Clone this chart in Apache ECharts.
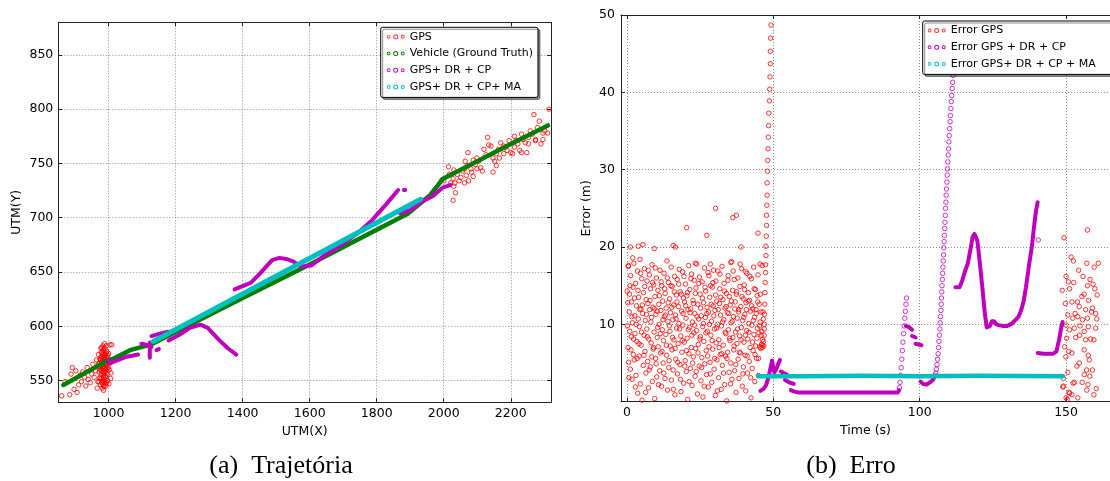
<!DOCTYPE html>
<html>
<head>
<meta charset="utf-8">
<script src="https://cdn.jsdelivr.net/npm/echarts@6/dist/echarts.min.js"></script>
<style>
  html, body { margin: 0; padding: 0; background: #fff; }
  #chart { width: 1110px; height: 481px; }
</style>
</head>
<body>
<div id="chart"></div>
<script>
// ---------- (a) Trajetoria : UTM(X) / UTM(Y) ----------
var gpsTraj = [
  [860,536],[870,549],[884,537],[888,556],[892,562],[897,542],[902,559],[906,539],[911,546],[915,555],
  [919,549],[923,558],[929,553],[932,545],[936,562],[939,551],[945,548],[950,556],[953,565],[957,553],
  [961,559],[964,569],[966,543],[968,549],[971,566],
  [975,560],[978,572],[980,548],[982,566],[984,578],[986,555],[988,570],[990,562],[992,575],[979,552],
  [983,582],[987,545],[991,568],[985,563],[981,576],[977,565],[989,551],[993,560],[995,572],[972,558],
  [974,570],[976,546],[980,580],[984,558],[988,566],[990,548],[994,564],[996,556],[998,568],[1000,575],
  [1002,560],[1004,583],[1006,552],[970,574],[973,552],[978,556],[982,561],[986,575],[989,579],[991,553],
  [993,571],[981,543],[985,541],[979,567],[983,569],[987,561],[990,573],[992,545],[986,549],[984,553],
  [978,576],[976,562],[974,563],[980,571],[988,557],[994,577],[997,550],[999,562],[1001,547],[995,567],
  [982,574],[985,567],[987,580],[989,565],[991,559],[983,547],[977,580],[975,553],[980,564],[990,569],
  [993,582],[996,561],[998,573],[1003,566],[984,571],[986,558],[988,584],[979,559],[981,550],[992,554],
  [994,548],[987,572],[985,545],[983,563],[989,574],[976,569],[973,566],[971,549],[1007,557],[1009,583],
  [1995,735],[2000,734],[2014,747],[2017,740],[2021,732],[2028,736],[2030,729],[2033,732],[2035,723],[2028,716],
  [2040,740],[2046,734],[2051,737],[2056,743],[2062,745],[2064,752],[2067,739],[2070,748],[2074,734],[2081,745],
  [2083,742],[2088,738],[2094,749],[2099,745],[2104,752],[2110,746],[2115,743],[2099,755],[2072,760],[2131,774],
  [2134,767],[2141,766],[2147,755],[2152,752],[2157,748],[2163,763],[2166,755],[2170,769],[2179,759],[2184,765],
  [2189,762],[2195,771],[2200,760],[2205,759],[2211,775],[2216,771],[2221,768],[2227,762],[2232,777],[2237,772],
  [2243,769],[2248,760],[2253,774],[2258,780],[2264,777],[2269,795],[2274,772],[2280,783],[2285,789],[2290,768],
  [2296,772],[2301,780],[2310,778],[2314,800],[2147,742],[2030,744],[2062,732],[2088,753],[2120,763],[2126,758],
  [2157,759],[2179,766],[2211,765],[2232,760],[2253,768],[2274,771],[2296,778]
];
var vehicleTraj = [
  [865,546],[1000,569],[1014,570],[1064,578],[1100,581],[1125,583],[1400,626],[1600,657],
  [1800,689],[1894,704],[1960,721],[1998,736],[2100,752],[2200,768],[2311,785]
];
var drcpTraj = [
  [[999,569],[1005,566],[1020,568],[1054,572],[1088,574]],
  [[1098,584],[1112,583],[1128,581]],
  [[1123,571],[1123,585]],
  [[1143,578],[1150,579]],
  [[1128,591],[1150,593],[1178,595]],
  [[1179,587],[1210,592],[1243,598.5],[1274,601.5],[1296,598.5],[1328,588],[1355,580],[1381,574]],
  [[1376,634],[1400,637],[1424,640],[1450,648],[1488,661],[1510,663],[1530,662],[1552,659.5],[1573,655],
   [1605,656],[1638,664],[1670,670],[1702,676.5],[1744,686],[1787,698],[1830,713],[1864,725.5]],
  [[1881,725.5],[1885,725.5]],
  [[1870,704],[1900,707],[1930,714],[1968,720],[1998,728],[2020,730]]
];
var maTraj = [[1133,586],[1931,717]];

// ---------- (b) Erro : Time (s) / Error (m) ----------
var gpsErr = [
  [0.1,14.3],[0.3,12.8],[0.4,7.0],[0.5,17.5],[0.6,5.1],[0.8,11.6],[0.9,13.9],[1.0,9.1],[1.2,4.2],[1.3,16.3],
  [1.5,8.4],[1.6,12.9],[1.8,2.9],[1.9,10.2],[2.1,14.8],[2.2,6.1],[2.4,17.9],[2.5,5.4],[2.7,11.1],[2.8,8.8],
  [3.0,15.3],[3.1,3.4],[3.3,12.4],[3.4,7.8],[3.6,16.9],[3.7,1.1],[3.9,10.7],[4.0,13.5],[4.2,5.9],[4.3,9.7],
  [4.5,18.4],[4.6,2.3],[4.8,12.0],[4.9,7.3],[5.1,15.9],[5.2,0.2],[5.4,11.4],[5.6,4.7],[5.7,14.1],[5.9,8.6],
  [6.0,17.2],[6.2,6.5],[6.3,10.5],[6.5,3.7],[6.6,13.2],[6.8,9.4],[6.9,15.6],[7.1,5.2],[7.2,12.7],[7.4,1.8],
  [7.5,8.1],[7.7,16.4],[7.8,11.9],[8.0,4.5],[8.1,14.6],[8.3,7.6],[8.4,10.9],[8.6,17.7],[8.7,2.6],[8.9,12.2],
  [9.0,6.8],[9.2,15.1],[9.3,9.0],[9.5,0.4],[9.6,13.6],[9.8,5.6],[9.9,11.3],[10.1,16.0],[10.2,3.2],[10.4,8.3],
  [10.6,14.4],[10.7,7.1],[10.9,12.6],[11.0,10.0],[11.2,4.0],[11.3,17.0],[11.5,6.3],[11.6,11.8],[11.8,2.0],[11.9,15.0],
  [12.1,9.3],[12.2,13.0],[12.4,5.0],[12.5,7.9],[12.7,16.6],[12.8,11.0],[13.0,3.0],[13.1,14.0],[13.3,8.7],[13.4,12.1],
  [13.6,6.0],[13.7,18.2],[13.9,1.5],[14.0,10.4],[14.2,15.4],[14.3,4.4],[14.5,9.8],[14.6,13.3],[14.8,7.2],[14.9,11.5],
  [15.1,17.4],[15.2,2.8],[15.4,6.7],[15.5,14.9],[15.7,10.6],[15.8,4.1],[16.0,12.5],[16.1,8.0],[16.3,16.2],[16.4,0.9],
  [16.6,11.2],[16.7,5.5],[16.9,13.8],[17.0,9.5],[17.2,15.8],[17.3,3.6],[17.5,7.5],[17.6,12.3],[17.8,10.1],[17.9,17.1],
  [18.1,4.8],[18.2,14.2],[18.4,8.5],[18.5,1.3],[18.7,11.7],[18.8,6.4],[19.0,16.8],[19.1,9.9],[19.3,13.4],[19.4,2.4],
  [19.6,7.7],[19.7,12.9],[19.9,5.3],[20.0,15.2],[20.2,10.8],[20.3,3.9],[20.5,13.7],[20.6,8.2],[20.8,0.3],[20.9,11.9],
  [21.1,17.6],[21.2,6.2],[21.4,9.6],[21.5,14.5],[21.7,4.3],[21.8,12.0],[22.0,7.0],[22.1,16.5],[22.3,2.1],[22.4,10.3],
  [22.6,13.1],[22.7,5.8],[22.9,8.9],[23.0,15.7],[23.2,11.4],[23.3,3.3],[23.5,6.9],[23.6,14.7],[23.8,9.2],[23.9,17.8],
  [24.1,1.0],[24.2,12.6],[24.4,7.4],[24.5,10.7],[24.7,4.6],[24.8,16.1],[25.0,13.9],[25.1,8.4],[25.3,2.7],[25.4,11.1],
  [25.6,5.7],[25.7,15.5],[25.9,9.7],[26.0,0.6],[26.2,12.8],[26.3,7.8],[26.5,17.3],[26.6,4.9],[26.8,10.9],[26.9,14.3],
  [27.1,6.6],[27.2,3.5],[27.4,12.2],[27.5,9.1],[27.7,16.7],[27.8,1.9],[27.9,11.6],[28.1,7.1],[28.3,13.5],[28.4,5.1],
  [28.6,15.0],[28.7,8.6],[28.9,10.4],[29.0,2.5],[29.2,14.8],[29.3,6.8],[29.5,12.4],[29.6,17.0],[29.8,4.2],[29.9,9.4],
  [30.1,11.8],[30.2,0.8],[30.4,15.6],[30.5,7.6],[30.7,13.0],[30.8,5.4],[31.0,10.0],[31.1,16.9],[31.3,3.1],[31.4,8.0],
  [31.6,12.7],[31.7,14.6],[31.9,6.1],[32.0,11.2],[32.2,1.6],[32.3,9.8],[32.5,17.5],[32.6,4.7],[32.8,13.2],[32.9,7.3],
  [33.1,10.6],[33.2,15.3],[33.4,2.2],[33.5,12.1],[33.7,5.9],[33.8,8.8],[34.0,14.0],[34.1,0.1],[34.3,11.5],[34.4,6.4],
  [34.6,16.3],[34.7,9.3],[34.9,3.8],[35.0,13.6],[35.2,7.9],[35.3,12.5],[35.5,5.0],[35.6,10.2],[35.8,18.1],[35.9,2.9],
  [36.1,14.4],[36.2,8.3],[36.4,11.0],[36.5,6.7],[36.7,15.8],[36.8,4.0],[37.0,12.9],[37.1,9.0],[37.3,1.2],[37.4,13.9],
  [37.6,7.5],[37.7,10.8],[37.9,16.0],[38.0,5.5],[38.2,11.9],[38.3,3.0],[38.5,8.5],[38.6,14.9],[38.8,6.3],[38.9,12.3],
  [39.1,9.6],[39.2,17.2],[39.4,2.0],[39.5,10.5],[39.7,13.3],[39.8,4.5],[40.0,7.7],[40.1,15.1],[40.3,11.3],[40.4,6.0],
  [40.6,1.4],[40.7,12.8],[40.9,9.2],[41.0,16.6],[41.2,3.7],[41.3,8.1],[41.5,14.1],[41.6,10.1],[41.8,5.2],[41.9,13.1],
  [42.1,7.0],[42.2,11.7],[42.4,0.5],[42.5,15.9],[42.7,9.9],[42.8,4.3],[43.0,12.0],[43.1,6.6],[43.3,17.4],[43.4,8.7],
  [43.6,10.9],[43.7,2.6],[43.9,14.5],[44.0,7.2],[44.2,11.4],[44.3,5.6],[44.5,13.7],[44.6,9.5],[44.8,16.4],[44.9,3.4],
  [45.1,8.9],[45.2,12.6],[45.4,7.1],[45.5,10.3],[45.7,6.9],[45.8,11.6],[46.0,7.4],[46.1,9.1],[46.3,8.0],[46.4,7.3],
  [46.6,10.7],[46.7,7.8],[46.9,9.4],
  [0.2,9.8],[0.7,3.1],[1.1,15.0],[1.4,6.7],[1.7,11.0],[2.0,18.6],[2.3,8.1],[2.6,13.4],[2.9,1.9],[3.2,10.0],
  [3.5,5.6],[3.8,14.4],[4.1,7.5],[4.4,11.9],[4.7,16.6],[5.0,9.0],[5.3,12.5],[5.8,6.0],[6.1,14.9],[6.4,1.2],
  [6.7,11.3],[7.0,8.4],[7.3,17.0],[7.6,4.1],[7.9,13.1],[8.2,10.3],[8.5,5.8],[8.8,15.4],[9.1,7.0],[9.4,12.0],
  [9.7,17.3],[10.0,4.9],[10.3,11.7],[10.5,9.6],[10.8,2.2],[11.1,13.7],[11.4,8.8],[11.7,15.5],[12.0,6.5],[12.3,10.6],
  [12.6,3.7],[12.9,14.6],[13.2,11.2],[13.5,7.3],[13.8,16.0],[14.1,12.8],[14.4,5.3],[14.7,9.1],[15.0,15.0],[15.3,12.2],
  [15.6,8.3],[15.9,1.6],[16.2,14.2],[16.5,6.9],[16.8,10.7],[17.1,12.9],[17.4,5.1],[17.7,15.2],[18.0,9.4],[18.3,2.9],
  [18.6,13.9],[18.9,7.9],[19.2,11.4],[19.5,16.2],[19.8,4.6],[20.1,12.4],[20.4,6.6],[20.7,14.1],[21.0,9.3],[21.3,2.6],
  [21.6,11.5],[21.9,15.9],[22.2,8.6],[22.5,5.0],[22.8,12.7],[23.1,9.9],[23.4,14.0],[23.7,3.9],[24.0,11.0],[24.3,6.3],
  [24.6,15.3],[24.9,8.1],[25.2,12.1],[25.5,4.4],[25.8,13.4],[26.1,10.1],[26.4,2.0],[26.7,14.8],[27.0,8.9],[27.3,11.4],
  [27.6,5.9],[28.0,16.3],[28.2,10.0],[28.5,3.6],[28.8,12.6],[29.1,7.9],[29.4,15.4],[29.7,11.1],[30.0,5.6],[30.3,13.8],
  [30.6,9.5],[30.9,1.4],[31.2,11.9],[31.5,7.0],[31.8,16.5],[32.1,13.5],[32.4,6.2],[32.7,10.3],[33.0,3.7],[33.3,14.3],
  [33.6,9.0],[33.9,12.3],[34.2,5.6],[34.5,15.7],[34.8,11.4],[35.1,8.2],[35.4,2.3],[35.7,13.0],[36.0,10.4],[36.3,16.9],
  [36.6,7.2],[36.9,12.0],[37.2,4.8],[37.5,14.2],[37.8,9.4],[38.1,11.6],[38.4,6.4],[38.7,17.8],[39.0,8.0],[39.3,13.6],
  [39.6,3.6],[39.9,10.9],[40.2,14.5],[40.5,8.6],[40.8,11.9],[41.1,5.9],[41.4,13.0],[41.7,9.0],[42.0,16.2],[42.3,3.1],
  [42.6,12.4],[42.9,7.7],[43.2,10.5],[43.5,14.6],[43.8,6.1],[44.1,11.9],[44.4,8.2],[44.7,12.9],[45.0,5.6],[45.3,9.8],
  [45.6,13.9],[45.9,8.6],[46.2,7.0],[46.5,11.6],[46.8,7.2],
  [30.3,25.0],[36.2,23.8],[37.4,24.1],[20.4,22.5],[27.3,21.5],[39.0,20.0],[44.8,21.8],[3.9,20.1],[5.5,20.3],[9.4,19.8],
  [15.8,20.2],[16.6,20.0],[1.2,20.0],[0.5,17.6],[40.6,16.8],[46.2,17.6],[45.5,17.8],[35.5,18.0],[28.5,17.8],[23.4,17.9],
  [46.9,8.6],[46.95,10.0],[47.0,11.3],[47.1,12.6],[47.15,14.1],[47.25,15.4],[47.35,16.7],[47.35,17.7],[47.5,18.9],
  [47.5,20.1],[47.6,21.4],[47.7,22.8],[47.7,24.1],[47.8,25.4],[47.9,26.7],[47.9,28.3],[48.0,29.8],[48.1,31.2],
  [48.2,32.7],[48.3,34.2],[48.4,35.7],[48.5,37.3],[48.7,38.9],[48.8,40.4],[48.9,42.0],[49.0,43.7],[49.0,45.3],
  [49.1,47.0],[49.25,48.7],
  [149.3,21.2],[157.3,22.2],[151.7,18.7],[152.5,18.2],[157.1,17.9],[159.6,17.4],[161.0,17.9],[154.3,17.0],[150.0,16.2],
  [155.8,16.2],[158.2,15.8],[150.8,15.5],[159.2,15.2],[157.3,15.0],[148.7,14.4],[151.2,14.6],[152.6,15.4],[159.8,14.6],
  [156.2,13.9],[160.6,13.8],[155.4,13.6],[152.0,12.9],[153.9,12.9],[157.7,13.1],[149.8,12.7],[154.5,12.3],[156.7,11.9],
  [159.0,12.1],[160.1,11.4],[158.7,11.6],[153.1,11.4],[150.6,11.2],[152.3,10.8],[154.0,11.0],[155.6,10.6],[157.3,10.8],
  [160.5,10.7],[150.0,9.9],[151.2,9.3],[152.8,9.5],[154.8,9.8],[157.6,9.7],[156.2,9.1],[160.1,9.5],[150.2,8.2],
  [153.3,8.3],[154.6,8.6],[156.7,8.0],[158.4,8.1],[159.5,8.0],[149.5,7.1],[150.9,6.5],[152.0,6.3],[156.2,6.7],
  [157.6,6.0],[149.9,5.8],[154.5,5.0],[153.7,4.6],[157.9,5.4],[159.0,4.1],[157.0,4.1],[150.6,3.8],[149.1,3.0],
  [156.2,3.5],[158.1,3.3],[152.8,2.5],[152.4,2.4],[155.5,2.5],[157.5,2.2],[149.1,2.0],[159.5,0.9],[151.2,1.1],
  [152.0,0.9],[157.1,1.5],[154.0,0.5],[150.0,0.5],[160.3,1.7],[148.9,1.9],[150.4,0.3],[151.0,1.2]
];
var drcpErrTraces = [
  [[45.6,1.4],[46.8,1.7],[47.6,2.2],[48.4,3.2],[49.2,4.6],[49.6,5.3]],
  [[49.6,5.3],[50.0,4.3],[50.4,3.8],[51.0,4.2],[51.8,5.0],[52.3,5.4]],
  [[52.6,3.9],[53.5,3.7],[54.6,3.5]],
  [[54.0,2.8],[55.5,2.5],[57.0,2.3]],
  [[56.0,1.5],[57.2,1.3],[58.4,1.2],[75.0,1.2],[92.5,1.2],[93.0,1.5]],
  [[95.3,9.8],[96.5,9.6],[97.4,9.3]],
  [[97.4,8.5],[98.6,8.3]],
  [[98.6,7.5],[100.6,7.3]],
  [[100.3,2.6],[101.2,2.3],[102.2,2.2],[103.5,2.5],[104.5,2.8],[105.2,3.3]],
  [[112.2,14.8],[113.6,14.8],[114.5,15.6],[115.5,16.9],[116.4,17.8],[117.3,19.6],[118.1,21.3],[118.7,21.7],
   [119.2,21.6],[119.7,20.8],[120.1,19.5],[120.8,17.0],[121.5,14.4],[122.2,11.6],[122.9,9.6],[123.4,9.4],
   [124.0,9.8],[124.7,10.4],[125.4,10.4],[126.2,10.0],[127.0,9.9],[128.5,9.8],[129.9,9.8],[131.5,10.1],
   [132.8,10.6],[133.8,11.0],[134.8,12.0],[135.5,13.0],[136.3,14.8],[137.2,17.3],[138.3,20.0],[139.1,22.8],
   [139.7,24.6],[140.3,25.8]],
  [[140.3,6.3],[142.2,6.2],[145.6,6.2],[146.7,6.5],[147.6,8.0],[148.3,9.5],[148.8,10.3]]
];
var drcpErrPoints = [
  [93.1,1.8],[93.3,2.5],[93.5,3.4],[93.7,4.4],[93.9,5.5],[94.1,6.6],[94.3,7.7],[94.5,8.8],[94.7,9.8],
  [94.9,10.8],[95.1,11.7],[95.3,12.6],[95.5,13.4],
  [105.3,3.4],[105.5,3.7],[105.7,4.2],[105.9,4.8],[106.1,5.5],[106.3,6.2],[106.45,7.0],[106.6,7.8],[106.75,8.6],
  [106.9,9.4],[107.0,10.2],[107.1,11.0],[107.25,11.8],[107.35,12.6],[107.45,13.4],[107.55,14.2],[107.65,15.0],
  [107.75,15.8],[107.85,16.6],[107.95,17.4],[108.05,18.2],[108.15,19.0],[108.25,19.9],[108.35,20.7],[108.45,21.5],
  [108.55,22.4],[108.65,23.2],[108.75,24.1],[108.85,25.0],[108.95,25.8],[109.05,26.7],[109.15,27.5],[109.3,28.4],
  [109.4,29.3],[109.5,30.1],[109.6,31.0],[109.75,31.9],[109.85,32.7],[110.0,33.6],[110.1,34.4],[110.25,35.3],
  [110.4,36.2],[110.5,37.0],[110.65,37.9],[110.8,38.8],[110.95,39.6],[111.1,40.5],[111.25,41.3],[111.4,42.2],
  [111.55,43.0],
  [140.5,20.9]
];
var maErr = [[44.8,3.3],[60,3.3],[80,3.35],[100,3.3],[120,3.35],[149,3.3]];

var RED = '#ff0000', GREEN = '#008000', MAG = '#bf00bf', CYAN = '#00bfbf';
var FONT = 'DejaVu Sans';

// three hollow rings, like the matplotlib scatter legend handle
var ringIcon = 'path://' +
  'M0,2.5a1.9,1.9 0 1,0 3.8,0a1.9,1.9 0 1,0 -3.8,0Z M0.9,2.5a1,1 0 1,1 2,0a1,1 0 1,1 -2,0Z ' +
  'M6.5,2.5a2.5,2.5 0 1,0 5,0a2.5,2.5 0 1,0 -5,0Z M7.5,2.5a1.5,1.5 0 1,1 3,0a1.5,1.5 0 1,1 -3,0Z ' +
  'M14,2.5a2,2 0 1,0 4,0a2,2 0 1,0 -4,0Z M15,2.5a1,1 0 1,1 2,0a1,1 0 1,1 -2,0Z';

function dots(name, data, color, xi, yi) {
  return {
    type: 'scatter', name: name, data: data, xAxisIndex: xi, yAxisIndex: yi,
    symbol: 'circle', symbolSize: 4.5, silent: true, animation: false,
    itemStyle: { color: 'rgba(255,255,255,0)', borderColor: color, borderWidth: 1 }
  };
}
function trace(name, data, color, xi, yi, w) {
  return {
    type: 'line', name: name, data: data, xAxisIndex: xi, yAxisIndex: yi,
    symbol: 'none', showSymbol: false, silent: true, animation: false,
    itemStyle: { color: color },
    lineStyle: { color: color, width: w, cap: 'round', join: 'round' }
  };
}
function legendItem(name, color) {
  return { name: name, icon: ringIcon, itemStyle: { color: color, borderWidth: 0 } };
}

var gridLine = { show: true, lineStyle: { color: '#8c8c8c', width: 1, type: [1, 2] } };
var tick = { show: true, inside: true, length: 4, lineStyle: { color: '#222' } };
var axLine = { show: true, onZero: false, lineStyle: { color: '#222', width: 1 } };
var lbl = { color: '#000', fontFamily: FONT, fontSize: 12.5, showMinLabel: false, showMaxLabel: false,
            formatter: function (v) { return String(v); } };
var nameStyle = { color: '#000', fontFamily: FONT, fontSize: 12.5 };

function axis(o) {
  return Object.assign({
    type: 'value', axisLine: axLine, axisTick: tick, splitLine: { show: false },
    axisLabel: { show: false }
  }, o);
}

var series = [];
series.push(dots('GPS', gpsTraj, RED, 0, 0));
series.push(trace('Vehicle (Ground Truth)', vehicleTraj, GREEN, 0, 0, 4.5));
drcpTraj.forEach(function (seg) { series.push(trace('GPS+ DR + CP', seg, MAG, 0, 0, 4)); });
series.push(trace('GPS+ DR + CP+ MA', maTraj, CYAN, 0, 0, 5));

series.push(dots('Error GPS', gpsErr, RED, 2, 2));
drcpErrTraces.forEach(function (seg) { series.push(trace('Error GPS + DR + CP', seg, MAG, 2, 2, 4)); });
series.push(dots('Error GPS + DR + CP', drcpErrPoints, MAG, 2, 2));
series.push(trace('Error GPS+ DR + CP + MA', maErr, CYAN, 2, 2, 4.5));

var legendBox = {
  orient: 'vertical', selectedMode: false, backgroundColor: '#fff',
  borderColor: '#000', borderWidth: 1, borderRadius: 2,
  shadowColor: 'rgba(0,0,0,0.45)', shadowOffsetX: 2, shadowOffsetY: 2, shadowBlur: 0,
  itemWidth: 18, itemHeight: 5, itemGap: 3.7, itemSymbolKeepAspect: false,
  textStyle: { color: '#000', fontFamily: FONT, fontSize: 11, lineHeight: 13 }
};

var chart = echarts.init(document.getElementById('chart'), null, { renderer: 'canvas' });
var option = {
  backgroundColor: '#fff',
  animation: false,
  grid: [
    { left: 58.3, top: 22.3, width: 492.7, height: 380 },
    { left: 621, top: 15, width: 497, height: 386.7 }
  ],
  xAxis: [
    axis({ gridIndex: 0, position: 'bottom', min: 850, max: 2320, splitNumber: 7,
      axisLabel: Object.assign({ show: true, margin: 5 }, lbl), splitLine: gridLine,
      name: 'UTM(X)', nameLocation: 'middle', nameGap: 22, nameTextStyle: nameStyle }),
    axis({ gridIndex: 0, position: 'top', min: 850, max: 2320, splitNumber: 7 }),
    axis({ gridIndex: 1, position: 'bottom', min: -2, max: 165, splitNumber: 4,
      axisLabel: Object.assign({ show: true, margin: 5 }, lbl), splitLine: gridLine,
      name: 'Time (s)', nameLocation: 'middle', nameGap: 21, nameTextStyle: nameStyle }),
    axis({ gridIndex: 1, position: 'top', min: -2, max: 165, splitNumber: 4 })
  ],
  yAxis: [
    axis({ gridIndex: 0, position: 'left', min: 530, max: 880, splitNumber: 7,
      axisLabel: Object.assign({ show: true, margin: 5 }, lbl), splitLine: gridLine,
      name: 'UTM(Y)', nameLocation: 'middle', nameGap: 35, nameTextStyle: nameStyle }),
    axis({ gridIndex: 0, position: 'right', min: 530, max: 880, splitNumber: 7 }),
    axis({ gridIndex: 1, position: 'left', min: 0, max: 50, splitNumber: 5,
      axisLabel: Object.assign({}, lbl, { show: true, margin: 6, showMaxLabel: true }), splitLine: gridLine,
      name: 'Error (m)', nameLocation: 'middle', nameGap: 28, nameTextStyle: nameStyle })
  ],
  legend: [
    Object.assign({}, legendBox, {
      left: 380.7, top: 27.3, padding: [3, 5, 4, 6],
      data: [legendItem('GPS', RED), legendItem('Vehicle (Ground Truth)', GREEN),
             legendItem('GPS+ DR + CP', MAG), legendItem('GPS+ DR + CP+ MA', CYAN)]
    }),
    Object.assign({}, legendBox, {
      left: 922.7, top: 21, padding: [3, 24, 4, 5],
      data: [legendItem('Error GPS', RED), legendItem('Error GPS + DR + CP', MAG),
             legendItem('Error GPS+ DR + CP + MA', CYAN)]
    })
  ],
  graphic: [
    { type: 'text', x: 281, y: 466, silent: true,
      style: { text: '(a)\u2002Trajetória', fill: '#000', font: '26px "Liberation Serif"',
               textAlign: 'center', textVerticalAlign: 'middle' } },
    { type: 'text', x: 851, y: 466, silent: true,
      style: { text: '(b)\u2002Erro', fill: '#000', font: '26px "Liberation Serif"',
               textAlign: 'center', textVerticalAlign: 'middle' } }
  ],
  series: series
};
chart.setOption(option);
window.addEventListener('resize', chart.resize);
</script>
</body>
</html>
